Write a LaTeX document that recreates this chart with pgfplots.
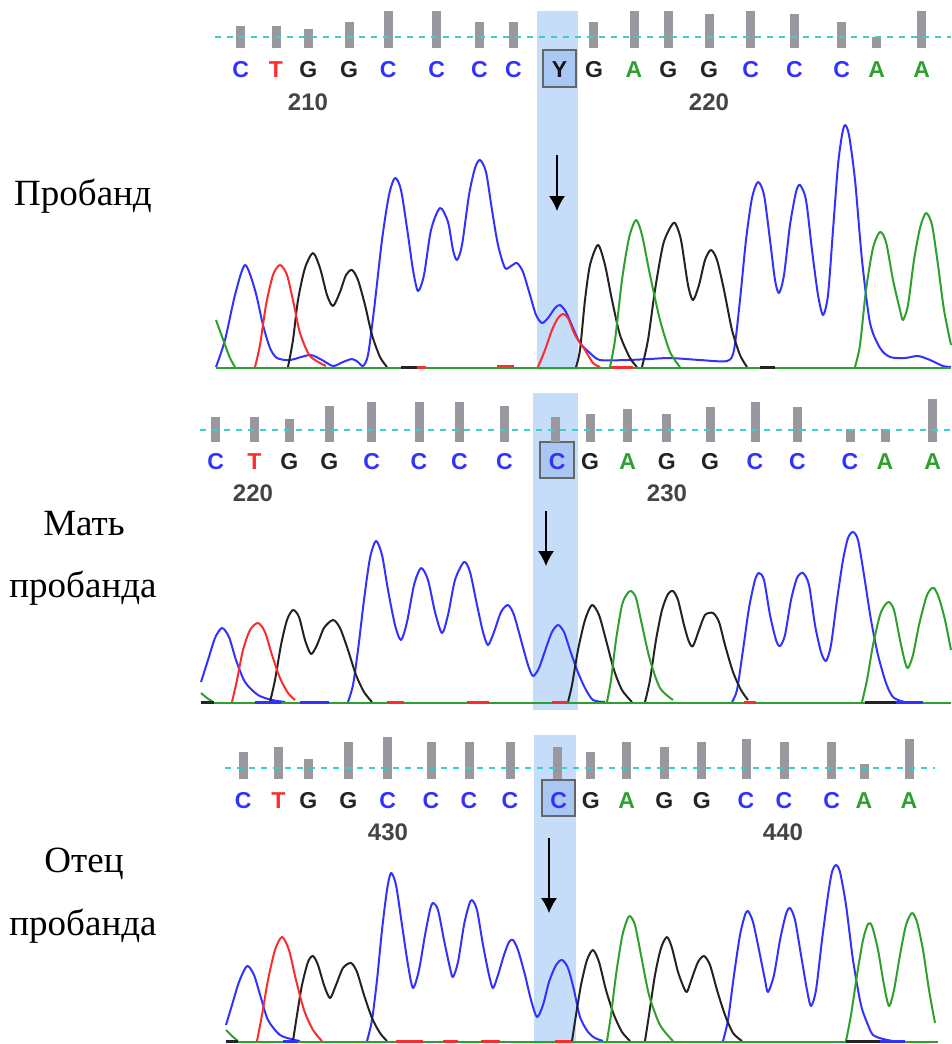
\documentclass[border=0pt]{standalone}
\usepackage{pgfplots}
\pgfplotsset{compat=1.18}
\usepackage{fontspec}
\setmainfont{Liberation Serif}
\newfontfamily\basefont{Liberation Sans}
\usetikzlibrary{arrows.meta}

% trace colours (ABI style)
\definecolor{colC}{RGB}{50,50,255}
\definecolor{colG}{RGB}{35,35,35}
\definecolor{colT}{RGB}{250,45,45}
\definecolor{colA}{RGB}{45,160,45}
\definecolor{colY}{RGB}{20,20,20}
\definecolor{band}{RGB}{198,221,250}
\definecolor{boxfill}{RGB}{168,200,243}
\definecolor{qbar}{RGB}{152,152,158}
\definecolor{dashc}{RGB}{60,205,205}

\pgfplotsset{
  trace/.style={smooth, tension=0.45, line width=1pt, line join=round, mark=none},
  quality/.style={qbar, line width=4.5pt, line cap=butt, unbounded coords=jump, mark=none},
}

% base call letter and position number
\newcommand{\bc}[3]{\node[font=\basefont\bfseries\fontsize{11.5}{12}\selectfont, text=col#3] at (axis cs:#1,#2) {#3};}
\newcommand{\pos}[3]{\node[font=\basefont\bfseries\fontsize{12}{12}\selectfont, text=colG!85!white] at (axis cs:#1,#2) {#3};}

\begin{document}
\begin{tikzpicture}
\begin{axis}[
  width=475.5pt, height=522pt, scale only axis,
  xmin=0, xmax=951, ymin=0, ymax=1044, y dir=reverse,
  axis lines=none, xtick=\empty, ytick=\empty, clip=false,
]
\path (axis cs:0,0) rectangle (axis cs:951,1044);

% highlighted position
\fill[band] (axis cs:536.7,11) rectangle (axis cs:578.3,370);
\fill[band] (axis cs:533.3,393) rectangle (axis cs:578.3,710);
\fill[band] (axis cs:534,735) rectangle (axis cs:575.7,1044);
\draw[gray!80!black, line width=1pt, fill=boxfill] (axis cs:543,50) rectangle (axis cs:576,87);
\draw[gray!80!black, line width=1pt, fill=boxfill] (axis cs:540,442) rectangle (axis cs:574.3,478);
\draw[gray!80!black, line width=1pt, fill=boxfill] (axis cs:542.3,780) rectangle (axis cs:575,816);

% ---------- quality bars ----------
\addplot[quality] table {
x y
240.7 48
240.7 26
nan nan
276 48
276 26
nan nan
308.3 48
308.3 29
nan nan
349 48
349 22
nan nan
388.3 48
388.3 11
nan nan
436.7 48
436.7 11
nan nan
479.3 48
479.3 22
nan nan
513.3 48
513.3 22
nan nan
593.8 48
593.8 22
nan nan
634 48
634 11
nan nan
668.3 48
668.3 11
nan nan
709 48
709 14
nan nan
750.7 48
750.7 11
nan nan
794.3 48
794.3 14
nan nan
841.7 48
841.7 22
nan nan
876.7 48
876.7 37
nan nan
921.7 48
921.7 11
};
\addplot[quality] table {
x y
215.7 441.7
215.7 416.7
nan nan
254.3 441.7
254.3 416.7
nan nan
289.3 441.7
289.3 419.3
nan nan
329.3 441.7
329.3 406
nan nan
371.7 441.7
371.7 401.7
nan nan
419 441.7
419 401.7
nan nan
459.3 441.7
459.3 401.7
nan nan
504.3 441.7
504.3 406
nan nan
555 441.7
555 416.7
nan nan
590 441.7
590 414
nan nan
627.7 441.7
627.7 409.3
nan nan
666.7 441.7
666.7 414
nan nan
710 441.7
710 406.7
nan nan
755 441.7
755 401.7
nan nan
797.3 441.7
797.3 406.7
nan nan
850 441.7
850 429.3
nan nan
885 441.7
885 429.3
nan nan
932.7 441.7
932.7 399.3
};
\addplot[quality] table {
x y
243.3 779
243.3 751.7
nan nan
278.3 779
278.3 746.7
nan nan
308.3 779
308.3 759.3
nan nan
348.3 779
348.3 741.7
nan nan
387.7 779
387.7 736.7
nan nan
431 779
431 741.7
nan nan
469 779
469 741.7
nan nan
510 779
510 741.7
nan nan
557.5 779
557.5 746.7
nan nan
590.7 779
590.7 751.7
nan nan
626.7 779
626.7 741.7
nan nan
664.3 779
664.3 746.7
nan nan
701.7 779
701.7 741.7
nan nan
746 779
746 739
nan nan
784 779
784 741.7
nan nan
831.7 779
831.7 741.7
nan nan
864 779
864 764.3
nan nan
909 779
909 739
};

% quality threshold lines
\addplot[dashc, line width=0.9pt, dash pattern=on 3pt off 3pt] coordinates {(215,36.7) (951,36.7)};
\addplot[dashc, line width=0.9pt, dash pattern=on 3pt off 3pt] coordinates {(200,430) (951,430)};
\addplot[dashc, line width=0.9pt, dash pattern=on 3pt off 3pt] coordinates {(225,767.7) (935,767.7)};

% ---------- base calls ----------
\bc{240.7}{70}{C}\bc{276}{70}{T}\bc{308.3}{70}{G}\bc{349}{70}{G}
\bc{388.3}{70}{C}\bc{436.7}{70}{C}\bc{479.3}{70}{C}\bc{513.3}{70}{C}
\bc{559.5}{70}{Y}\bc{594}{70}{G}\bc{634}{70}{A}\bc{668.3}{70}{G}
\bc{709}{70}{G}\bc{750.7}{70}{C}\bc{794.3}{70}{C}\bc{841.7}{70}{C}
\bc{876.7}{70}{A}\bc{921.7}{70}{A}
\pos{308}{102}{210}\pos{709}{102}{220}

\bc{215.7}{461.7}{C}\bc{254.3}{461.7}{T}\bc{289.3}{461.7}{G}\bc{329.3}{461.7}{G}
\bc{371.7}{461.7}{C}\bc{419}{461.7}{C}\bc{459.3}{461.7}{C}\bc{504.3}{461.7}{C}
\bc{557.2}{461.7}{C}\bc{590}{461.7}{G}\bc{627.7}{461.7}{A}\bc{666.7}{461.7}{G}
\bc{710}{461.7}{G}\bc{755}{461.7}{C}\bc{797.3}{461.7}{C}\bc{850}{461.7}{C}
\bc{885}{461.7}{A}\bc{932.7}{461.7}{A}
\pos{253}{493}{220}\pos{667}{493}{230}

\bc{243.3}{801}{C}\bc{278.3}{801}{T}\bc{308.3}{801}{G}\bc{348.3}{801}{G}
\bc{387.7}{801}{C}\bc{431}{801}{C}\bc{469}{801}{C}\bc{510}{801}{C}
\bc{558.7}{801}{C}\bc{590.7}{801}{G}\bc{626.7}{801}{A}\bc{664.3}{801}{G}
\bc{701.7}{801}{G}\bc{746}{801}{C}\bc{784}{801}{C}\bc{831.7}{801}{C}
\bc{864}{801}{A}\bc{909}{801}{A}
\pos{388}{832}{430}\pos{783}{832}{440}

% ---------- panel 1: proband ----------
\addplot[trace, colC] coordinates {(216,367) (225,340) (235,295) (245,265) (255,290) (263,325) (270,348) (277,358) (290,360) (310,355) (322,360) (333,366) (343,362) (352,359) (358,362) (363,366) (368,355) (374,310) (382,240) (389,195) (395,178) (401,190) (408,235) (413,270) (418,291) (424,275) (431,230) (440,208) (448,222) (453,250) (457,260) (462,245) (469,195) (475,168) (480,160) (486,172) (492,210) (498,245) (505,268) (511,266) (517,263) (523,272) (530,295) (536,315) (542,323) (548,318) (555,308) (560,305) (566,312) (573,328) (580,343) (590,353) (600,360) (627,360) (650,359) (670,358) (700,360) (727,361) (734,350) (740,300) (746,240) (752,198) (758,182) (764,195) (770,240) (775,280) (779,293) (784,275) (790,225) (796,192) (800,185) (806,200) (812,250) (818,295) (823,315) (828,295) (833,230) (838,165) (842,135) (845,125) (849,135) (855,180) (862,260) (870,323) (880,348) (890,357) (905,358) (918,356) (930,360) (943,366) (951,367)};
\addplot[trace, colG] coordinates {(288,367) (293,340) (298,300) (305,268) (313,253) (320,268) (327,295) (333,306) (340,292) (346,275) (352,270) (358,280) (365,305) (372,335) (380,357) (387,367)};
\addplot[trace, colG] coordinates {(576,367) (580,350) (585,300) (590,265) (598,245) (605,265) (612,300) (620,335) (630,358) (637,367)};
\addplot[trace, colG] coordinates {(642,367) (648,340) (655,290) (663,245) (670,228) (675,223) (681,240) (688,285) (693,300) (699,285) (705,260) (711,250) (717,260) (724,290) (732,330) (740,355) (747,367)};
\addplot[trace, colT] coordinates {(255,367) (260,345) (266,305) (273,275) (280,265) (287,275) (294,305) (300,333) (310,356) (326,366)};
\addplot[trace, colT] coordinates {(538,367) (545,350) (552,330) (558,318) (563,314) (568,318) (575,335) (585,350) (593,363) (600,367)};
\addplot[trace, colA] coordinates {(216,320) (224,342) (230,358) (235,367)};
\addplot[trace, colA] coordinates {(610,367) (615,340) (622,280) (629,238) (636,220) (642,235) (650,275) (660,320) (670,352) (680,367)};
\addplot[trace, colA] coordinates {(855,367) (860,345) (866,290) (873,248) (880,232) (886,242) (893,280) (900,310) (903,320) (908,305) (914,260) (920,228) (926,213) (932,225) (938,265) (944,310) (951,345)};
\addplot[colA, line width=1pt] coordinates {(216,367.5) (951,367.5)};
\addplot[colG, line width=1.2pt] coordinates {(401,367.5) (417,367.5)};
\addplot[colT, line width=1.2pt] coordinates {(417,367.5) (426,367.5)};
\addplot[colT, line width=1.2pt] coordinates {(497,366) (514,366)};
\addplot[colT, line width=1.2pt] coordinates {(611,367.5) (633,367.5)};
\addplot[colG, line width=1.2pt] coordinates {(760,367.5) (775,367.5)};

% ---------- panel 2: mother ----------
\addplot[trace, colC] coordinates {(201,682) (208,660) (215,638) (222,628) (229,637) (236,660) (245,682) (258,695) (272,700) (285,702)};
\addplot[trace, colC] coordinates {(348,702) (353,685) (358,650) (364,600) (370,558) (376,541) (382,555) (388,590) (395,625) (401,640) (407,622) (414,585) (421,568) (428,580) (435,612) (442,633) (448,615) (455,580) (464,562) (470,572) (477,605) (483,632) (488,645) (494,632) (501,612) (508,605) (514,615) (521,640) (528,665) (533,676) (539,668) (546,648) (552,632) (558,625) (564,632) (570,650) (577,670) (585,688) (593,700) (605,702)};
\addplot[trace, colC] coordinates {(732,702) (737,690) (743,650) (749,608) (755,580) (759,573) (764,580) (770,615) (776,640) (780,646) (785,635) (791,600) (797,578) (803,573) (809,585) (815,625) (821,652) (826,661) (831,645) (837,600) (843,560) (848,538) (853,532) (858,540) (864,575) (871,620) (878,655) (886,683) (893,697) (905,702) (923,702)};
\addplot[trace, colG] coordinates {(270,702) (275,680) (281,645) (287,620) (293,610) (299,617) (305,640) (311,654) (317,645) (324,628) (333,620) (340,628) (348,650) (356,675) (364,692) (372,702)};
\addplot[trace, colG] coordinates {(568,702) (572,685) (578,650) (585,620) (592,605) (599,615) (606,640) (614,670) (622,690) (632,702)};
\addplot[trace, colG] coordinates {(645,702) (650,680) (656,640) (662,610) (668,594) (673,591) (678,600) (684,625) (689,642) (693,646) (699,630) (705,615) (713,613) (719,622) (725,645) (733,672) (741,690) (748,700)};
\addplot[trace, colT] coordinates {(232,702) (237,680) (243,650) (250,630) (258,623) (265,632) (272,655) (280,678) (288,693) (295,700)};
\addplot[trace, colA] coordinates {(201,693) (207,698) (213,702)};
\addplot[trace, colA] coordinates {(607,702) (611,680) (616,640) (622,605) (627,594) (631,591) (636,598) (642,625) (650,660) (660,688) (673,700)};
\addplot[trace, colA] coordinates {(862,702) (867,680) (873,645) (880,615) (885,605) (889,602) (894,610) (900,640) (905,662) (908,668) (913,655) (919,625) (926,598) (930,590) (934,588) (939,598) (945,620) (951,650)};
\addplot[colA, line width=1pt] coordinates {(201,702.5) (951,702.5)};
\addplot[colG, line width=1.2pt] coordinates {(201,702.5) (214,702.5)};
\addplot[colC, line width=1.2pt] coordinates {(255,702.5) (281,702.5)};
\addplot[colC, line width=1.2pt] coordinates {(300,702.5) (329,702.5)};
\addplot[colT, line width=1.2pt] coordinates {(387,702.5) (404,702.5)};
\addplot[colT, line width=1.2pt] coordinates {(467,702.5) (489,702.5)};
\addplot[colT, line width=1.2pt] coordinates {(552,702.5) (568,702.5)};
\addplot[colT, line width=1.2pt] coordinates {(744,702.5) (756,702.5)};
\addplot[colG, line width=1.2pt] coordinates {(865,702.5) (896,702.5)};
\addplot[colC, line width=1.2pt] coordinates {(896,702.5) (923,702.5)};

% ---------- panel 3: father ----------
\addplot[trace, colC] coordinates {(226,1025) (232,1005) (239,982) (247,966) (254,975) (261,998) (268,1020) (280,1035) (295,1040) (300,1041)};
\addplot[trace, colC] coordinates {(367,1041) (372,1020) (377,980) (382,930) (387,890) (391,873) (396,885) (402,925) (408,965) (413,988) (419,970) (425,935) (430,910) (433,903) (438,910) (444,940) (450,968) (453,977) (458,962) (464,925) (469,905) (472,900) (477,910) (483,945) (489,975) (493,988) (498,975) (504,955) (509,942) (513,940) (518,950) (525,975) (531,1000) (537,1017) (543,1005) (549,982) (556,965) (562,960) (568,968) (574,990) (580,1017) (588,1032) (595,1038) (603,1041)};
\addplot[trace, colC] coordinates {(723,1041) (728,1020) (734,975) (740,935) (745,915) (748,911) (753,922) (759,950) (765,980) (768,992) (774,975) (780,940) (786,914) (790,908) (795,920) (801,955) (807,990) (811,1006) (816,990) (822,940) (828,895) (832,872) (836,865) (840,872) (846,905) (853,960) (861,1005) (868,1025) (873,1035) (883,1039) (893,1041)};
\addplot[trace, colG] coordinates {(293,1041) (297,1015) (302,985) (308,962) (313,956) (318,965) (324,985) (330,998) (336,985) (343,968) (351,963) (357,972) (364,995) (372,1018) (380,1033) (387,1041)};
\addplot[trace, colG] coordinates {(572,1041) (576,1015) (581,985) (587,960) (593,950) (599,962) (606,990) (614,1015) (622,1032) (630,1041)};
\addplot[trace, colG] coordinates {(645,1041) (649,1015) (655,975) (661,948) (667,937) (672,948) (678,972) (684,988) (687,992) (692,978) (698,962) (704,956) (710,965) (717,990) (725,1015) (733,1033) (742,1041)};
\addplot[trace, colT] coordinates {(257,1041) (262,1015) (268,980) (275,950) (282,937) (289,950) (296,980) (304,1010) (313,1030) (322,1041)};
\addplot[trace, colA] coordinates {(226,1030) (232,1036) (238,1041)};
\addplot[trace, colA] coordinates {(607,1041) (611,1015) (616,975) (622,937) (627,920) (630,916) (635,925) (641,955) (649,995) (660,1025) (673,1041)};
\addplot[trace, colA] coordinates {(846,1041) (851,1015) (857,975) (863,940) (868,924) (872,926) (878,950) (884,985) (889,1006) (894,990) (900,955) (906,925) (912,913) (917,922) (923,950) (929,990) (935,1023)};
\addplot[colA, line width=1pt] coordinates {(226,1041.5) (938,1041.5)};
\addplot[colG, line width=1.2pt] coordinates {(226,1041.5) (238,1041.5)};
\addplot[colC, line width=1.2pt] coordinates {(283,1041.5) (298,1041.5)};
\addplot[colT, line width=1.2pt] coordinates {(396,1041.5) (423,1041.5)};
\addplot[colT, line width=1.2pt] coordinates {(443,1041.5) (458,1041.5)};
\addplot[colT, line width=1.2pt] coordinates {(481,1041.5) (500,1041.5)};
\addplot[colT, line width=1.2pt] coordinates {(555,1041.5) (571,1041.5)};
\addplot[colG, line width=1.2pt] coordinates {(846,1041.5) (880,1041.5)};
\addplot[colC, line width=1.2pt] coordinates {(880,1041.5) (905,1041.5)};

% ---------- arrows at the variant position ----------
\draw[-{Latex[length=7.5pt,width=8pt]}, line width=0.6pt] (axis cs:557,155) -- (axis cs:557,211);
\draw[-{Latex[length=7.5pt,width=8pt]}, line width=0.6pt] (axis cs:546,511) -- (axis cs:546,566);
\draw[-{Latex[length=7.5pt,width=8pt]}, line width=0.6pt] (axis cs:549,838) -- (axis cs:549,913);

% ---------- sample labels ----------
\node[font=\fontsize{18.5}{18.5}\selectfont, anchor=base] at (axis cs:83,205) {Пробанд};
\node[font=\fontsize{18.5}{18.5}\selectfont, anchor=base] at (axis cs:84,535) {Мать};
\node[font=\fontsize{18.5}{18.5}\selectfont, anchor=base] at (axis cs:83,597) {пробанда};
\node[font=\fontsize{18.5}{18.5}\selectfont, anchor=base] at (axis cs:84,872) {Отец};
\node[font=\fontsize{18.5}{18.5}\selectfont, anchor=base] at (axis cs:83,935) {пробанда};
\end{axis}
\end{tikzpicture}
\end{document}
